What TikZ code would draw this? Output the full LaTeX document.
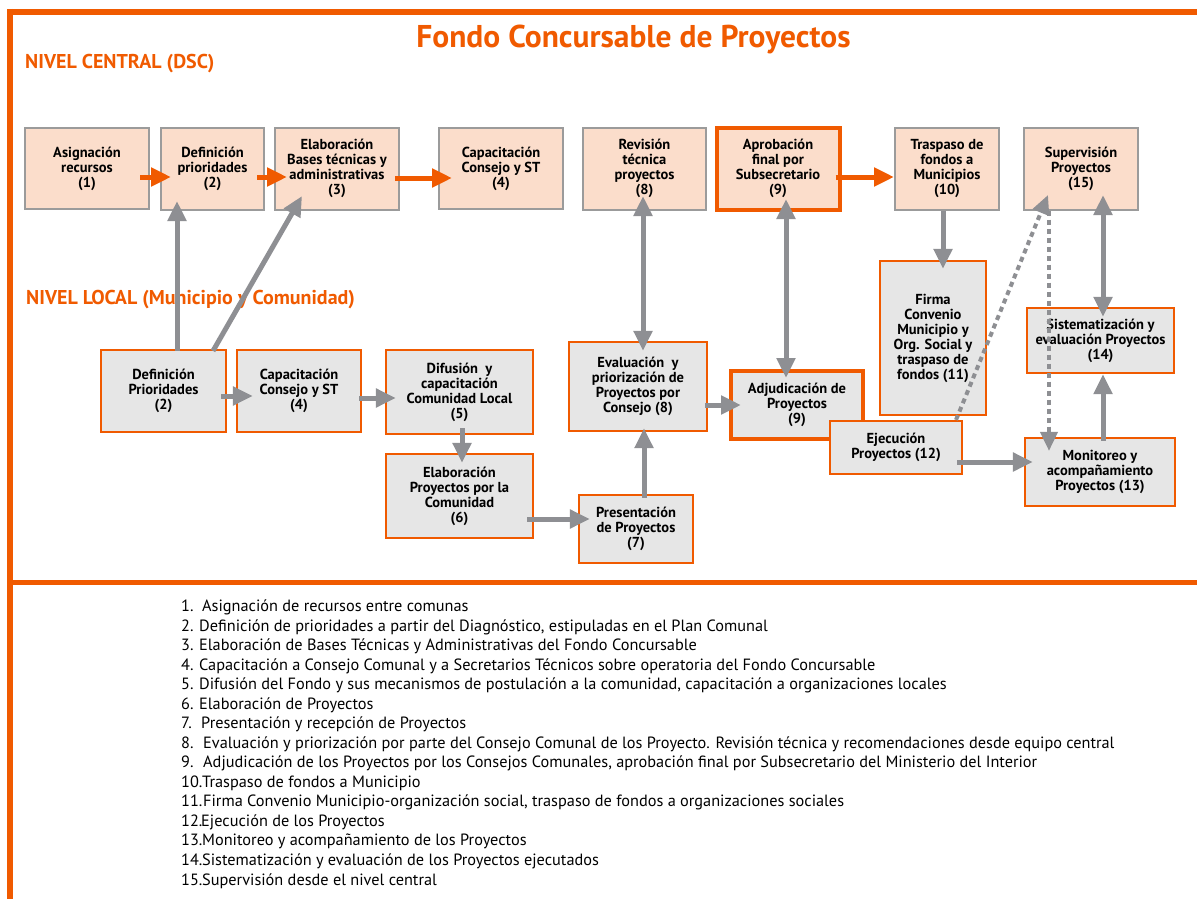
\documentclass[tikz,border=0pt]{standalone}
\usepackage{fontspec}
\setmainfont{PT Sans}
\usetikzlibrary{arrows.meta,calc}
\definecolor{org}{RGB}{240,90,0}
\definecolor{peach}{RGB}{251,221,203}
\definecolor{lgray}{RGB}{230,230,230}
\definecolor{bgray}{RGB}{155,155,155}
\definecolor{agray}{RGB}{142,143,147}
\newcommand\bxfont{\bfseries\fontsize{14.5}{15}\selectfont}
\begin{document}
\begin{tikzpicture}[x=1pt,y=-1pt,
  cbox/.style={draw=bgray, line width=2pt, fill=peach, align=center, font=\bxfont, inner sep=1pt},
  lbox/.style={draw=org, line width=2.2pt, fill=lgray, align=center, font=\bxfont, inner sep=1pt},
  strong/.style={draw=org, line width=4pt},
  oarrow/.style={draw=org, line width=5pt, -{Triangle[width=18pt,length=20pt]}},
  garrow/.style={draw=agray, line width=5pt, -{Triangle[width=18pt,length=20pt]}},
  gdarrow/.style={draw=agray, line width=5pt, {Triangle[width=18pt,length=20pt]}-{Triangle[width=18pt,length=20pt]}},
  dotarrow/.style={draw=agray, line width=4pt, dash pattern=on 5pt off 4pt, -{Triangle[width=17pt,length=19pt]}},
  legn/.style={anchor=base west, inner sep=0pt, font=\fontsize{16.3}{19}\selectfont},
  frame/.style={draw=org, line width=6pt},
  sect/.style={anchor=base west, inner sep=0pt, text=org, font=\bfseries\fontsize{20}{22}\selectfont}
]
\useasboundingbox (0,0) rectangle (1197,899);
% frame
\draw[frame] (7,12) coordinate (ftl) -- (1197,12) coordinate (ftr);
\draw[frame] (10,9) coordinate (flt) -- (10,899) coordinate (flb);
\draw[draw=org, line width=5pt] (10,582.5) coordinate (fdl) -- (1197,582.5) coordinate (fdr);
% titles
\node[anchor=base, inner sep=0pt, text=org, font=\bfseries\fontsize{31.5}{33}\selectfont] (title) at (633.5,48) {Fondo Concursable de Proyectos};
\node[sect] (central) at (25,69) {NIVEL CENTRAL (DSC)};
\node[sect] (local) at (26,304) {NIVEL LOCAL (Municipio y Comunidad)};
% central boxes
\node[cbox, minimum width=124pt, minimum height=81pt] (b1) at (87,168.5) {Asignación\\recursos\\(1)};
\node[cbox, minimum width=103pt, minimum height=82pt] (b2) at (212.5,168.5) {Definición\\prioridades\\(2)};
\node[cbox, minimum width=124pt, minimum height=82pt] (b3) at (337,168.5) {Elaboración\\Bases técnicas y\\administrativas\\(3)};
\node[cbox, minimum width=124pt, minimum height=81pt] (b4) at (501,168.5) {Capacitación\\Consejo y ST\\(4)};
\node[cbox, minimum width=123pt, minimum height=82pt] (b8) at (644.5,168.5) {Revisión\\técnica\\proyectos\\(8)};
\node[cbox, strong, minimum width=123pt, minimum height=82pt] (b9) at (778,168.5) {Aprobación\\final por\\Subsecretario\\(9)};
\node[cbox, minimum width=104pt, minimum height=82pt] (b10) at (947,168.5) {Traspaso de\\fondos a\\Municipios\\(10)};
\node[cbox, minimum width=114pt, minimum height=82pt] (b15) at (1081,168.5) {Supervisión\\Proyectos\\(15)};
% local boxes
\node[lbox, minimum width=125pt, minimum height=82pt] (l2) at (163.5,391) {Definición\\Prioridades\\(2)};
\node[lbox, minimum width=124pt, minimum height=82pt] (l4) at (299,391) {Capacitación\\Consejo y ST\\(4)};
\node[lbox, minimum width=147pt, minimum height=84pt] (l5) at (459.5,392) {Difusión~ y\\capacitación\\Comunidad Local\\(5)};
\node[lbox, minimum width=147pt, minimum height=84pt] (l6) at (459.5,496) {Elaboración\\Proyectos por la\\Comunidad\\(6)};
\node[lbox, minimum width=114pt, minimum height=68pt] (l7) at (636,529) {Presentación\\de Proyectos\\(7)};
\node[lbox, minimum width=138pt, minimum height=89pt] (l8) at (638,386.5) {Evaluación~ y\\priorización de\\Proyectos por\\Consejo (8)};
\node[lbox, strong, minimum width=132pt, minimum height=68pt] (l9) at (797,405) {Adjudicación de\\Proyectos\\(9)};
\node[lbox, minimum width=106pt, minimum height=154pt] (l11) at (933,338) {Firma\\Convenio\\Municipio y\\Org. Social y\\traspaso de\\fondos (11)};
\node[lbox, minimum width=150pt, minimum height=68pt] (l13) at (1100,472) {Monitoreo y\\acompañamiento\\Proyectos (13)};
\node[lbox, minimum width=147pt, minimum height=65pt] (l14) at (1100.5,340.5) {Sistematización y\\evaluación Proyectos\\(14)};
\node[lbox, minimum width=132pt, minimum height=53pt] (l12) at (896,447.5) {Ejecución\\Proyectos (12)};
% central orange arrows
\draw[oarrow] ($(b1.east)+(-10,8.5)$) -- ($(b2.west)+(11,8.5)$);
\draw[oarrow] ($(b2.east)+(-8,8.5)$) -- ($(b3.west)+(13,8.5)$);
\draw[oarrow] ($(b3.east)+(-5,9.5)$) -- ($(b4.west)+(14,9.5)$);
\draw[oarrow] ($(b9.east)+(-6,8.5)$) -- ($(b10.west)+(0,8.5)$);
% gray arrows between levels
\draw[garrow] ($(l2.north)+(13.5,2)$) -- ($(b2.south)+(-35.5,-9.5)$);
\draw[garrow] ($(l2.north)+(49.5,2)$) -- ($(b3.south)+(-35,-14.5)$);
\draw[gdarrow] ($(b8.south)+(-1.5,-14.5)$) -- ($(l8.north)+(5,10)$);
\draw[gdarrow] ($(b9.south)+(8,-12.5)$) -- ($(l9.north)+(-11,9)$);
\draw[garrow] ($(b10.south)+(-4,0)$) -- ($(l11.north)+(10,9)$);
\draw[gdarrow] ($(b15.south)+(22,-15.5)$) -- ($(l14.north)+(2.5,10)$);
% local arrows
\draw[garrow] ($(l2.east)+(-6,5)$) -- ($(l4.west)+(17,5)$);
\draw[garrow] ($(l4.east)+(-3,7)$) -- ($(l5.west)+(11,6)$);
\draw[garrow] ($(l5.south)+(2.5,-7)$) -- ($(l6.north)+(2.5,10)$);
\draw[garrow] ($(l6.east)+(-7,23)$) -- ($(l7.west)+(12,-10)$);
\draw[garrow] ($(l7.north)+(8,4)$) -- ($(l8.south)+(6,-4)$);
\draw[garrow] ($(l8.east)+(-3,18.5)$) -- ($(l9.west)+(12,0)$);
\draw[garrow] ($(l12.east)+(-6,14.5)$) -- ($(l13.west)+(9,-10)$);
\draw[garrow] ($(l13.north)+(3,4)$) -- ($(l14.south)+(2.5,0)$);
% dotted
\draw[dotarrow] ($(l12.north)+(60,0)$) -- ($(b15.south)+(-33,-15.5)$);
\draw[dotarrow] ($(b15.south)+(-32,0)$) -- ($(l13.north)+(-51,14)$);
% legend
\foreach \n/\x/\t [count=\i from 0] in {
 1./202/{Asignación de recursos entre comunas},
 2./199/{Definición de prioridades a partir del Diagnóstico, estipuladas en el Plan Comunal},
 3./199/{Elaboración de Bases Técnicas y Administrativas del Fondo Concursable},
 4./199/{Capacitación a Consejo Comunal y a Secretarios Técnicos sobre operatoria del Fondo Concursable},
 5./199/{Difusión del Fondo y sus mecanismos de postulación a la comunidad, capacitación a organizaciones locales},
 6./199/{Elaboración de Proyectos},
 7./201/{Presentación y recepción de Proyectos},
 8./203/{Evaluación y priorización por parte del Consejo Comunal de los Proyecto. Revisión técnica y recomendaciones desde equipo central},
 9./203/{Adjudicación de los Proyectos por los Consejos Comunales, aprobación final por Subsecretario del Ministerio del Interior},
 10./202/{Traspaso de fondos a Municipio},
 11./203/{Firma Convenio Municipio-organización social, traspaso de fondos a organizaciones sociales},
 12./201/{Ejecución de los Proyectos},
 13./202/{Monitoreo y acompañamiento de los Proyectos},
 14./202/{Sistematización y evaluación de los Proyectos ejecutados},
 15./202/{Supervisión desde el nivel central}}{
 \node[legn] (ln\i) at (181,611.5+19.54*\i) {\n};
 \node[legn] (lt\i) at (\x,611.5+19.54*\i) {\t};
}
\end{tikzpicture}
\end{document}
